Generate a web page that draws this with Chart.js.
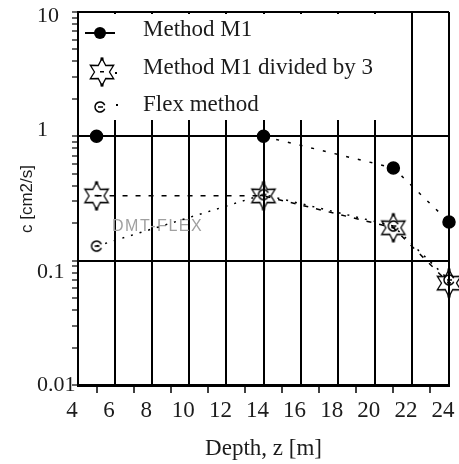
<!DOCTYPE html>
<html>
<head>
<meta charset="utf-8">
<script src="https://cdn.jsdelivr.net/npm/chart.js@4.4.0/dist/chart.umd.min.js"></script>
<style>
html, body { margin: 0; padding: 0; background: #fff; }
#wrap { width: 459px; height: 464px; position: relative; }
</style>
</head>
<body>
<div id="wrap"><canvas id="chart"></canvas></div>
<script>
// depths in m, coefficient c in cm2/s
const depths = [5, 14, 21, 24];
const methodM1 = [1.0, 1.0, 0.557, 0.205];
const methodM1Div3 = [0.332, 0.332, 0.184, 0.066];
const flexMethod = [0.131, 0.34, 0.19, 0.07];
const yMajor = [0.01, 0.1, 1, 10];
const seriesLabels = ['Method M1', 'Method M1 divided by 3', 'Flex method'];

const INK = '#1c1c1c';
const SERIF = '"Liberation Serif", "Times New Roman", serif';
const SANS = '"Liberation Sans", Arial, sans-serif';

// the scanned original has its y labels slightly off their gridlines
const yLabelShift = [0, 12, -6, 4];

function makeStar() {
    const c = document.createElement('canvas');
    c.width = 30; c.height = 32;
    const g = c.getContext('2d');
    g.strokeStyle = '#000';
    g.lineWidth = 1.3;
    g.beginPath();
    for (let i = 0; i < 12; i++) {
        const r = i % 2 === 0 ? 13.5 : 7.5;
        const a = -Math.PI / 2 + i * Math.PI / 6;
        const px = 15 + r * Math.cos(a), py = 16 + r * Math.sin(a);
        if (i) g.lineTo(px, py); else g.moveTo(px, py);
    }
    g.closePath();
    g.stroke();
    g.fillStyle = '#000';
    g.fillRect(13.5, 1.5, 3, 3);
    g.fillRect(13.5, 27.5, 3, 3);
    g.fillRect(13, 15, 4, 1.5);
    return c;
}

function makeFlex() {
    const c = document.createElement('canvas');
    c.width = 14; c.height = 14;
    const g = c.getContext('2d');
    g.strokeStyle = '#000';
    g.lineWidth = 1.5;
    g.beginPath();
    g.arc(7, 7, 5, 0.35, Math.PI * 2 - 0.35);
    g.stroke();
    g.beginPath();
    g.moveTo(5, 7); g.lineTo(10, 7);
    g.stroke();
    return c;
}

const starImg = makeStar();
const flexImg = makeFlex();

const isMajor = v => Math.abs(Math.log10(v) - Math.round(Math.log10(v))) < 1e-9;
const majorIndex = v => yMajor.findIndex(m => Math.abs(m - v) < 1e-12);

const extras = {
    id: 'extras',
    beforeDatasetsDraw(chart) {
        const { ctx, chartArea: a } = chart;
        ctx.save();
        // legend box hides the grid behind it
        ctx.fillStyle = '#fff';
        ctx.fillRect(a.left + 2, a.top + 2, 400 - a.left, 120 - a.top - 2);
        // watermark
        ctx.fillStyle = '#a0a0a0';
        ctx.font = '16px ' + SANS;
        ctx.letterSpacing = '1.5px';
        ctx.textBaseline = 'middle';
        ctx.fillText('DMT-FLEX', a.left + 34, 227);
        ctx.restore();
    },
    afterDraw(chart) {
        const { ctx, chartArea: a } = chart;
        const mx = a.left + 22;
        const tx = a.left + 65;
        const rows = [30, 68, 105];
        ctx.save();
        // legend markers
        ctx.strokeStyle = '#000';
        ctx.fillStyle = '#000';
        ctx.lineWidth = 2;
        ctx.beginPath();
        ctx.moveTo(mx - 15, rows[0] + 3); ctx.lineTo(mx + 15, rows[0] + 3);
        ctx.stroke();
        ctx.beginPath();
        ctx.arc(mx, rows[0] + 3, 6, 0, Math.PI * 2);
        ctx.fill();
        ctx.drawImage(starImg, mx + 2 - 15, rows[1] + 4 - 16);
        ctx.fillRect(mx + 15, rows[1] + 4, 2, 2);
        ctx.drawImage(flexImg, mx - 7, rows[2] + 2 - 7);
        ctx.fillRect(mx + 16, rows[2] - 1, 2, 2);
        // legend text
        ctx.fillStyle = INK;
        ctx.font = '23px ' + SERIF;
        ctx.textBaseline = 'middle';
        seriesLabels.forEach((t, i) => ctx.fillText(t, tx, rows[i]));
        // y axis title
        ctx.translate(27, 199);
        ctx.rotate(-Math.PI / 2);
        ctx.textAlign = 'center';
        ctx.font = '17px ' + SANS;
        ctx.fillText('c [cm2/s]', 0, 0);
        ctx.restore();
    }
};

new Chart(document.getElementById('chart'), {
    type: 'line',
    data: {
        labels: depths,
        datasets: [
            {
                label: seriesLabels[0],
                data: depths.map((d, i) => ({ x: d, y: methodM1[i] })),
                borderColor: '#000',
                borderWidth: 1.5,
                borderDash: [3, 9],
                pointStyle: 'circle',
                pointRadius: 6,
                pointBackgroundColor: '#000',
                pointBorderColor: '#000',
                clip: false
            },
            {
                label: seriesLabels[1],
                data: depths.map((d, i) => ({ x: d, y: methodM1Div3[i] })),
                borderColor: '#000',
                borderWidth: 1.5,
                borderDash: [5, 8],
                pointStyle: starImg,
                pointRadius: 12,
                clip: false
            },
            {
                label: seriesLabels[2],
                data: depths.map((d, i) => ({ x: d, y: flexMethod[i] })),
                borderColor: '#000',
                borderWidth: 1.5,
                borderDash: [2, 7],
                pointStyle: flexImg,
                pointRadius: 6,
                clip: false
            }
        ]
    },
    options: {
        responsive: true,
        maintainAspectRatio: false,
        animation: false,
        layout: { autoPadding: false, padding: { left: 37, right: 10, top: 12, bottom: 0 } },
        plugins: {
            legend: { display: false },
            tooltip: { enabled: false }
        },
        scales: {
            x: {
                type: 'linear',
                min: 4,
                max: 24,
                afterFit: s => {
                    s.height = 79;
                    s.paddingLeft = 0;
                    s.paddingRight = 0;
                },
                grid: {
                    color: c => (c.tick && c.tick.value % 2 === 0) ? '#000' : 'rgba(0,0,0,0)',
                    lineWidth: 2,
                    tickColor: c => (c.tick && c.tick.value % 2 === 1) ? '#000' : 'rgba(0,0,0,0)',
                    tickLength: 8,
                    tickWidth: 1.5
                },
                border: { color: '#000', width: 3 },
                ticks: {
                    stepSize: 1,
                    autoSkip: false,
                    maxRotation: 0,
                    labelOffset: -6,
                    padding: 4,
                    color: INK,
                    font: { family: SERIF, size: 23 },
                    callback: v => v % 2 === 0 ? String(v) : ''
                },
                title: {
                    display: true,
                    text: 'Depth, z [m]',
                    color: INK,
                    font: { family: SERIF, size: 23 },
                    padding: { top: 6, bottom: 1 }
                }
            },
            y: {
                type: 'logarithmic',
                min: 0.01,
                max: 10,
                afterBuildTicks: s => {
                    const t = [];
                    for (let i = 0; i < yMajor.length - 1; i++) {
                        for (let m = 1; m <= 9; m++) t.push({ value: m === 1 ? yMajor[i] : m * yMajor[i] });
                    }
                    t.push({ value: yMajor[yMajor.length - 1] });
                    s.ticks = t;
                },
                afterFit: s => {
                    s.width = 41;
                    s.paddingTop = 0;
                    s.paddingBottom = 0;
                },
                grid: {
                    color: c => (c.tick && isMajor(c.tick.value)) ? '#000' : 'rgba(0,0,0,0)',
                    lineWidth: 2,
                    tickColor: '#000',
                    tickLength: 6,
                    tickWidth: 1.2
                },
                border: { color: '#000', width: 2 },
                ticks: {
                    autoSkip: false,
                    crossAlign: 'far',
                    padding: 2,
                    color: INK,
                    font: c => {
                        const i = c.tick ? majorIndex(c.tick.value) : -1;
                        const sh = i >= 0 ? Math.abs(yLabelShift[i]) : 0;
                        return { family: SERIF, size: 22, lineHeight: sh ? (sh * 2) + 'px' : '22px' };
                    },
                    callback: v => {
                        const i = majorIndex(v);
                        if (i < 0) return '';
                        const txt = String(yMajor[i]);
                        const sh = yLabelShift[i];
                        return sh > 0 ? ['', txt] : sh < 0 ? [txt, ''] : txt;
                    }
                }
            }
        }
    },
    plugins: [extras]
});
</script>
</body>
</html>
